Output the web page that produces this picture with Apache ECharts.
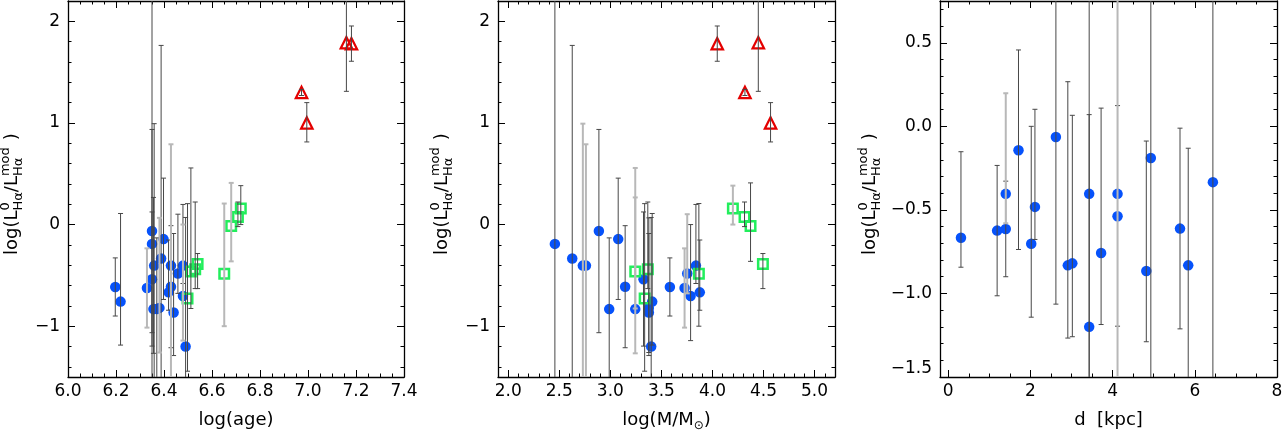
<!DOCTYPE html>
<html>
<head>
<meta charset="utf-8">
<script src="https://cdn.jsdelivr.net/npm/echarts@6/dist/echarts.min.js"></script>
<style>
  html, body { margin: 0; padding: 0; background: #fff; }
  #chart { width: 1282px; height: 433px; }
</style>
</head>
<body>
<div id="chart"></div>
<script>
// blue clusters (same 20 objects in all three panels)
const blueY    = [-0.667,-0.624,-0.404,-0.614,-0.143,-0.703,-0.482,-0.064,-0.832,-0.820,-0.404,-1.200,-0.758,-0.404,-0.538,-0.866,-0.190,-0.612,-0.832,-0.334];
const blueHi   = [-0.152,-0.234, 0.198,-0.328, 0.457, 0.000, 0.102, 0.936, 0.267, 0.066, 0.993, 0.070, 0.109, 0.790, 0.124,-0.088, 2.600,-0.011,-0.131, 1.763];
const blueLo   = [-0.843,-1.014,-0.580,-0.900,-0.737,-1.142,-0.677,-1.064,-1.267,-1.259,-2.000,-2.000,-1.186,-2.000,-1.196,-1.289,-2.000,-1.212,-2.000,-2.000];
const blueAge  = [6.419,6.329,6.479,6.197,6.398,6.479,6.458,6.350,6.356,6.381,6.359,6.490,6.219,6.429,6.350,6.440,6.350,6.429,6.370,6.388];
const blueMass = [3.876,3.727,3.838,3.583,3.077,3.786,3.753,2.888,3.244,3.377,2.731,3.400,3.410,2.761,3.325,3.377,2.457,3.145,2.989,2.627];
const blueDist = [0.31,1.19,1.40,1.40,1.71,2.02,2.11,2.62,2.91,3.02,3.43,3.43,3.72,4.12,4.12,4.82,4.93,5.64,5.84,6.44];
// 1 = light grey error bar
const blueLightAge  = [0,1,0,0,0,1,0,0,0,1,0,0,0,1,0,0,0,0,0,0];
const blueLightMass = [0,1,0,0,0,0,1,0,1,0,1,0,0,1,0,0,0,0,0,0];
const blueLightDist = [0,0,1,0,0,0,0,0,0,0,0,0,0,1,0,0,0,0,0,0];

// green squares
const sqY    = [-0.728,-0.462,-0.440,-0.387,-0.483,-0.015, 0.075, 0.157];
const sqHi   = [ 0.206, 0.557, 0.222,-0.285, 0.207, 0.410, 0.222, 0.383];
const sqLo   = [-1.443,-0.826,-0.630,-0.630,-1.000,-0.362,-0.020, 0.000];
const sqAge  = [6.498,6.512,6.530,6.540,6.651,6.680,6.708,6.720];
const sqMass = [3.336,3.244,3.367,4.494,3.867,4.373,4.314,4.200];
const sqLightAge  = [0,0,0,0,1,1,0,0];
const sqLightMass = [0,1,0,0,0,0,0,1];

// red triangles
const triY    = [1.790,1.780,1.300,1.000];
const triHi   = [2.500,1.954,1.330,1.200];
const triLo   = [1.311,1.607,1.270,0.813];
const triAge  = [7.160,7.181,6.973,6.995];
const triMass = [4.449,4.047,4.318,4.569];

// tick labels
const ageTicks   = [6.0,6.2,6.4,6.6,6.8,7.0,7.2,7.4];
const massTicks  = [2.0,2.5,3.0,3.5,4.0,4.5,5.0];
const distTicks  = [0,2,4,6,8];
const ratioTicks = [-1,0,1,2];
const ratioTicksD = [-1.5,-1.0,-0.5,0.0,0.5];

const FONT = 'DejaVu Sans';
const BLUE = '#0652fb', GREEN = '#22ee5c', RED = '#e40000';
const DARK = '#474747', LIGHT = '#b8b8b8';

function steps(a, b, s) {
  const out = [];
  for (let v = a; v <= b + 1e-9; v += s) out.push(Math.round(v * 1000) / 1000);
  return out;
}
const minus = s => s.replace('-', '\u2212');

const panels = [
  { grid: {left: 68, top: 1, width: 336, height: 376}, x: [6.0, 7.4], y: [-1.5, 2.2],
    xMaj: ageTicks, xMin: steps(6.0, 7.4, 0.05), yMaj: ratioTicks, yMin: steps(-1.4, 2.2, 0.2),
    xFmt: v => v.toFixed(1), yFmt: v => minus(v.toFixed(0)), xName: 'log(age)' },
  { grid: {left: 498, top: 1, width: 337, height: 376}, x: [1.9, 5.2], y: [-1.5, 2.2],
    xMaj: massTicks, xMin: steps(1.9, 5.2, 0.1), yMaj: ratioTicks, yMin: steps(-1.4, 2.2, 0.2),
    xFmt: v => v.toFixed(1), yFmt: v => minus(v.toFixed(0)), xName: 'log(M/M{s|\u2299})' },
  { grid: {left: 940, top: 1, width: 337, height: 376}, x: [-0.2, 8], y: [-1.5, 0.75],
    xMaj: distTicks, xMin: steps(0, 8, 0.5), yMaj: ratioTicksD, yMin: steps(-1.5, 0.7, 0.1),
    xFmt: v => v.toFixed(0), yFmt: v => minus(v.toFixed(1)), xName: 'd  [kpc]', liftMin: true }
];

const lineCol = {color: '#000', width: 1.3};
const tickCol = {color: '#000', width: 1};

function axesFor(p, gi, dim) {
  const isX = dim === 'x';
  const base = { gridIndex: gi, type: 'value', min: p[dim][0], max: p[dim][1], splitLine: {show: false} };
  const maj = isX ? p.xMaj : p.yMaj, mn = isX ? p.xMin : p.yMin;
  const sides = isX ? ['bottom', 'top'] : ['left', 'right'];
  const main = Object.assign({}, base, {
    position: sides[0],
    axisLine: {show: true, onZero: false, lineStyle: lineCol},
    axisTick: {show: true, inside: true, length: 7, customValues: maj, lineStyle: tickCol},
    axisLabel: {show: true, customValues: maj, formatter: isX ? p.xFmt : p.yFmt,
      margin: isX ? 6 : 8, fontFamily: FONT, fontSize: 17, color: '#000'}
  });
  if (!isX && p.liftMin) main.axisLabel.verticalAlignMinLabel = 'bottom';
  if (isX) {
    Object.assign(main, {
      name: p.xName, nameLocation: 'middle', nameGap: 31,
      nameTextStyle: {fontFamily: FONT, fontSize: 18, color: '#000', lineHeight: 24,
        rich: {s: {fontFamily: FONT, fontSize: 12, color: '#000', lineHeight: 12, verticalAlign: 'bottom'}}}
    });
  }
  const minor = (side) => Object.assign({}, base, {
    position: side,
    axisLine: {show: false, onZero: false},
    axisTick: {show: true, inside: true, length: 3.5, customValues: mn, lineStyle: tickCol},
    axisLabel: {show: false}
  });
  const opp = Object.assign({}, base, {
    position: sides[1],
    axisLine: {show: true, onZero: false, lineStyle: lineCol},
    axisTick: {show: true, inside: true, length: 7, customValues: maj, lineStyle: tickCol},
    axisLabel: {show: false}
  });
  return [main, minor(sides[0]), opp, minor(sides[1])];
}

function renderErr(params, api) {
  const x = api.value(0), hi = api.value(2), lo = api.value(3), light = api.value(4);
  const top = api.coord([x, hi]), bot = api.coord([x, lo]);
  const style = {stroke: light ? LIGHT : DARK, lineWidth: light ? 2 : 1};
  const w = 2.5;
  return {
    type: 'group',
    children: [
      {type: 'line', shape: {x1: top[0], y1: top[1], x2: bot[0], y2: bot[1]}, style},
      {type: 'line', shape: {x1: top[0] - w, y1: top[1], x2: top[0] + w, y2: top[1]}, style},
      {type: 'line', shape: {x1: bot[0] - w, y1: bot[1], x2: bot[0] + w, y2: bot[1]}, style}
    ]
  };
}

function errRows(xs, ys, his, los, lights) {
  return xs.map((x, i) => [x, ys[i], his[i], los[i], lights ? lights[i] : 0])
    .sort((a, b) => a[4] - b[4]);
}

const xAxis = [], yAxis = [], series = [];
panels.forEach((p, gi) => {
  xAxis.push(...axesFor(p, gi, 'x'));
  yAxis.push(...axesFor(p, gi, 'y'));
});
const ax = gi => ({xAxisIndex: gi * 4, yAxisIndex: gi * 4});

function addGroup(gi, xs, ys, his, los, lights, symbol) {
  series.push(Object.assign({
    type: 'scatter', data: xs.map((x, i) => [x, ys[i]]), z: 2, silent: true
  }, ax(gi), symbol));
  series.push(Object.assign({
    type: 'custom', renderItem: renderErr, clip: true, z: 3, silent: true,
    encode: {x: 0, y: 1}, data: errRows(xs, ys, his, los, lights)
  }, ax(gi)));
}

const blueSym = {symbol: 'circle', symbolSize: 10.5, itemStyle: {color: BLUE, opacity: 1}};
const sqSym = {symbol: 'rect', symbolSize: 9.5, itemStyle: {color: 'rgba(0,0,0,0)', borderColor: GREEN, borderWidth: 2.5, opacity: 1}};
const triSym = {symbol: 'triangle', symbolSize: 11.5, itemStyle: {color: 'rgba(0,0,0,0)', borderColor: RED, borderWidth: 2.2, opacity: 1}};

addGroup(0, blueAge, blueY, blueHi, blueLo, blueLightAge, blueSym);
addGroup(0, sqAge, sqY, sqHi, sqLo, sqLightAge, sqSym);
addGroup(0, triAge, triY, triHi, triLo, null, triSym);
addGroup(1, blueMass, blueY, blueHi, blueLo, blueLightMass, blueSym);
addGroup(1, sqMass, sqY, sqHi, sqLo, sqLightMass, sqSym);
addGroup(1, triMass, triY, triHi, triLo, null, triSym);
addGroup(2, blueDist, blueY, blueHi, blueLo, blueLightDist, blueSym);

// rotated y title: log(L^0_Ha / L^mod_Ha )
function yTitle(left, bottom) {
  const ctx = document.createElement('canvas').getContext('2d');
  const big = 18, small = 13;
  const w = (t, s) => { ctx.font = s + 'px "' + FONT + '"'; return ctx.measureText(t).width; };
  const parts = [];
  const add = (t, s, dy, xx) => parts.push({
    type: 'text', x: xx, y: dy,
    style: {text: t, fontSize: s, fontFamily: FONT, fill: '#000', align: 'left', verticalAlign: 'middle'}
  });
  const mainY = -0.3 * big, subY = 4.7 - 0.3 * small, supY = -8.5 - 0.3 * small;
  let x = 0;
  add('log(', big, mainY, x); x += w('log(', big);
  ['0', 'mod'].forEach((sup, k) => {
    add('L', big, mainY, x); x += w('L', big);
    add('H\u03b1', small, subY, x); add(sup, small, supY, x);
    x += Math.max(w('H\u03b1', small), w(sup, small));
    if (k === 0) { add('/', big, mainY, x); x += w('/', big); }
  });
  x += 7;
  add(')', big, mainY, x);
  return {type: 'group', x: left, y: bottom, rotation: Math.PI / 2, children: parts, silent: true};
}

const chart = echarts.init(document.getElementById('chart'), null, {renderer: 'canvas'});
chart.setOption({
  animation: false,
  backgroundColor: '#fff',
  grid: panels.map(p => Object.assign({containLabel: false, outerBoundsMode: 'none'}, p.grid)),
  xAxis,
  yAxis,
  series,
  graphic: [yTitle(18, 255), yTitle(448, 255), yTitle(876, 255)]
});
</script>
</body>
</html>
